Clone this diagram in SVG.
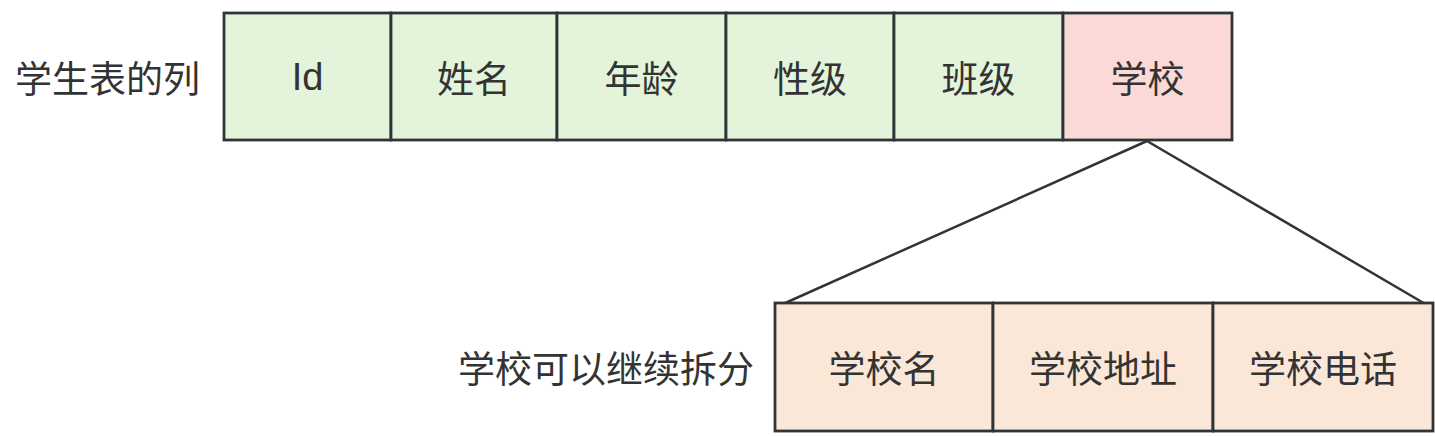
<svg xmlns="http://www.w3.org/2000/svg" width="1435" height="436" viewBox="0 0 1435 436">
<style>
.cell{stroke:#2f3537;stroke-width:2.8}
.g{fill:#e3f4da}
.p{fill:#fad9d6}
.o{fill:#fbe7d8}
text{font-family:"Microsoft YaHei","Noto Sans CJK SC","Liberation Sans",sans-serif;font-size:37px;fill:#333;text-anchor:middle;dominant-baseline:central}
.lbl{text-anchor:end}
.conn{stroke:#2f3537;stroke-width:2.5;fill:none}
</style>
<rect width="1435" height="436" fill="#fff"/>
<g id="connectors">
<line class="conn" x1="1147" y1="141" x2="783" y2="304"/>
<line class="conn" x1="1147" y1="141" x2="1427" y2="305"/>
</g>
<g id="label-top"><text class="lbl" x="200" y="77">学生表的列</text></g>
<g id="col-id"><rect class="cell g" x="224" y="13" width="167" height="127"/><text x="307.5" y="77" style="font-family:'Liberation Sans',sans-serif;font-size:38px">Id</text></g>
<g id="col-name"><rect class="cell g" x="391" y="13" width="166" height="127"/><text x="474" y="77">姓名</text></g>
<g id="col-age"><rect class="cell g" x="557" y="13" width="169" height="127"/><text x="641.5" y="77">年龄</text></g>
<g id="col-gender"><rect class="cell g" x="726" y="13" width="168" height="127"/><text x="810" y="77">性级</text></g>
<g id="col-class"><rect class="cell g" x="894" y="13" width="169" height="127"/><text x="978.5" y="77">班级</text></g>
<g id="col-school"><rect class="cell p" x="1063" y="13" width="169" height="127"/><text x="1147.5" y="77">学校</text></g>
<g id="label-bottom"><text class="lbl" x="754" y="367">学校可以继续拆分</text></g>
<g id="school-name"><rect class="cell o" x="775" y="303" width="218" height="128"/><text x="884" y="367">学校名</text></g>
<g id="school-addr"><rect class="cell o" x="993" y="303" width="220" height="128"/><text x="1103" y="367">学校地址</text></g>
<g id="school-phone"><rect class="cell o" x="1213" y="303" width="220" height="128"/><text x="1323" y="367">学校电话</text></g>
</svg>
